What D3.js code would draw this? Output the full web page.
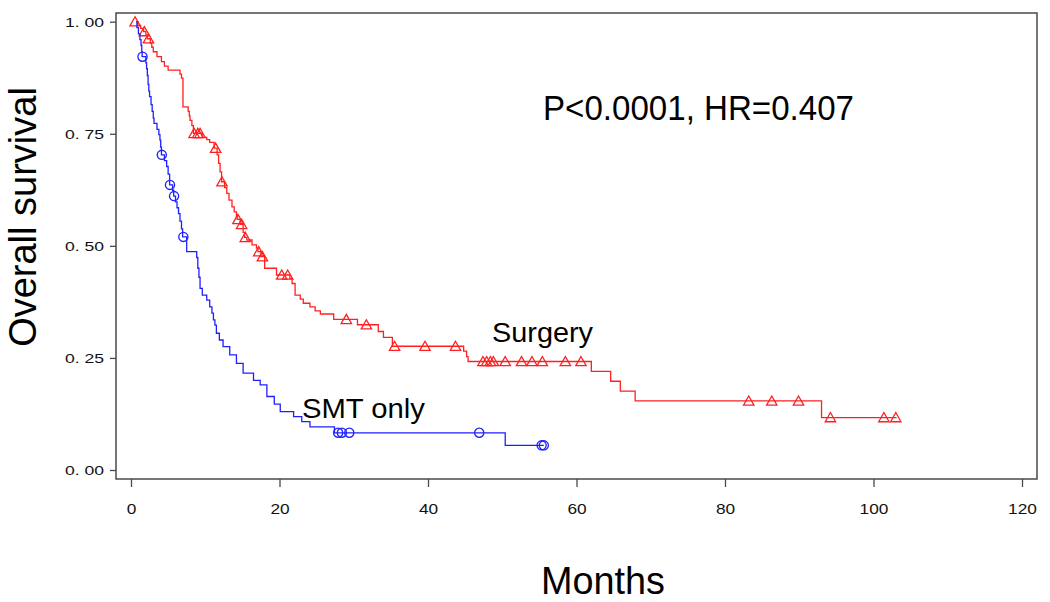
<!DOCTYPE html>
<html><head><meta charset="utf-8">
<script src="https://cdn.jsdelivr.net/npm/d3@7"></script>
<style>
body{margin:0;background:#fff}
text{font-family:"Liberation Sans",Arial,sans-serif}
</style>
</head><body>
<svg id="c" width="1050" height="602"></svg>
<script>
// ---- data ----
const xTicks = [0, 20, 40, 60, 80, 100, 120];
const yTicks = [0, 0.25, 0.5, 0.75, 1.0];
const yTickLabels = ["0. 00", "0. 25", "0. 50", "0. 75", "1. 00"];

const curveStart = 0.7;

const surgeryEventTimes = [0.9,1.3,1.7,2.0,2.2,2.6,2.8,3.0,3.5,4.1,4.5,5.0,6.6,6.8,7.0,7.7,7.85,7.95,8.2,8.4,9.6,10.2,10.6,11.2,11.6,11.8,12.0,12.2,12.6,12.9,13.2,13.6,13.9,14.2,14.3,14.7,15.1,15.3,15.6,16.3,16.9,17.1,17.5,18.0,19.6,21.4,21.7,22.1,22.8,23.2,24.1,24.8,25.5,27.3,30.5,33.3,34.0,35.2,44.8,45.2,45.4,62.0,64.6,65.9,67.9,93.0];
const surgerySurvival = [0.992,0.985,0.978,0.970,0.962,0.952,0.943,0.933,0.922,0.911,0.901,0.892,0.883,0.874,0.81,0.80,0.79,0.78,0.768,0.751,0.742,0.737,0.731,0.718,0.703,0.684,0.665,0.643,0.630,0.617,0.602,0.587,0.576,0.565,0.559,0.548,0.53,0.519,0.513,0.502,0.495,0.487,0.476,0.45,0.435,0.427,0.416,0.39,0.381,0.372,0.364,0.355,0.348,0.336,0.324,0.309,0.296,0.276,0.265,0.253,0.242,0.22,0.198,0.176,0.154,0.117];
const surgeryCensorTimes = [0.55,1.8,2.35,8.5,9.0,9.3,11.4,12.25,14.4,14.9,15.4,17.2,17.7,20.3,21.1,29.0,31.7,35.5,39.6,43.7,47.4,47.9,48.4,48.8,50.4,52.6,54.0,55.4,58.5,60.6,83.2,86.3,89.9,94.2,101.4,103.0];
const surgeryEnd = 103.1;

const smtEventTimes = [0.8,1.0,1.2,1.35,1.45,1.5,2.0,2.1,2.2,2.3,2.4,2.5,2.7,2.85,3.0,3.1,3.5,3.75,3.9,4.0,4.1,4.5,4.8,5.0,5.2,5.6,5.75,6.0,6.2,6.4,6.6,6.8,6.95,7.5,8.85,9.0,9.15,9.3,9.6,10.2,10.6,10.9,11.1,11.3,11.5,11.9,12.4,13.3,14.2,15.1,16.5,17.4,18.3,19.3,20.1,21.9,23.0,24.1,27.4,50.4];
const smtSurvival = [0.987,0.973,0.96,0.947,0.934,0.922,0.908,0.895,0.88,0.86,0.845,0.833,0.815,0.80,0.785,0.773,0.76,0.748,0.736,0.72,0.703,0.69,0.677,0.66,0.636,0.624,0.611,0.598,0.585,0.572,0.555,0.538,0.52,0.487,0.474,0.45,0.43,0.405,0.39,0.379,0.364,0.35,0.335,0.323,0.305,0.29,0.275,0.257,0.238,0.216,0.20,0.19,0.164,0.147,0.13,0.119,0.108,0.096,0.083,0.055];
const smtCensorTimes = [1.55,4.15,5.25,5.8,7.05,27.9,28.4,29.4,46.9,55.3,55.6];
const smtEnd = 55.6;

const groupLabels = ["Surgery", "SMT only"];
const annotation = "P<0.0001, HR=0.407";
const xTitle = "Months";
const yTitle = "Overall survival";

// ---- chart ----
const svg = d3.select("#c");
const x = d3.scaleLinear().domain([0, 120]).range([131, 1022]);
const y = d3.scaleLinear().domain([0, 1]).range([470, 21.7]);
const frame = {l: 116, t: 13, r: 1037, b: 479};
const axisColor = "#4a4a4a";

svg.append("rect").attr("x", frame.l).attr("y", frame.t)
  .attr("width", frame.r - frame.l).attr("height", frame.b - frame.t)
  .attr("fill", "none").attr("stroke", axisColor).attr("stroke-width", 1.5);

// x axis
const xAxis = d3.axisBottom(x).tickValues(xTicks).tickSize(8).tickPadding(16).tickFormat(d3.format("d"));
const gx = svg.append("g").attr("transform", `translate(0,${frame.b})`).call(xAxis);
gx.select(".domain").remove();
gx.selectAll("line").attr("stroke", axisColor).attr("stroke-width", 1.3);
gx.selectAll("text").attr("font-size", 15).attr("fill", "#111")
  .attr("textLength", d => String(d).length * 9.6).attr("lengthAdjust", "spacingAndGlyphs");

// y axis
const yAxis = d3.axisLeft(y).tickValues(yTicks).tickSize(6).tickPadding(6)
  .tickFormat((d, i) => yTickLabels[i]);
const gy = svg.append("g").attr("transform", `translate(${frame.l},0)`).call(yAxis);
gy.select(".domain").remove();
gy.selectAll("line").attr("stroke", axisColor).attr("stroke-width", 1.3);
gy.selectAll("text").attr("font-size", 13.5).attr("fill", "#111")
  .attr("textLength", 39).attr("lengthAdjust", "spacingAndGlyphs");

function stepPoints(times, surv, end) {
  const pts = [[curveStart, 1]];
  times.forEach((t, i) => pts.push([t, surv[i]]));
  pts.push([end, surv[surv.length - 1]]);
  return pts;
}
function survAt(times, surv, t) {
  let s = 1;
  for (let i = 0; i < times.length; i++) if (times[i] <= t) s = surv[i];
  return s;
}
const line = d3.line().x(d => x(d[0])).y(d => y(d[1])).curve(d3.curveStepAfter);

const groups = [
  {times: surgeryEventTimes, surv: surgerySurvival, cens: surgeryCensorTimes, end: surgeryEnd, color: "#ff2020", shape: "tri"},
  {times: smtEventTimes, surv: smtSurvival, cens: smtCensorTimes, end: smtEnd, color: "#2020ff", shape: "circ"}
];

groups.forEach(g => {
  svg.append("path").datum(stepPoints(g.times, g.surv, g.end))
    .attr("d", line).attr("fill", "none").attr("stroke", g.color).attr("stroke-width", 1.3);
  const m = svg.append("g").selectAll("path").data(g.cens).join("path")
    .attr("fill", "none").attr("stroke", g.color).attr("stroke-width", 1.3)
    .attr("transform", t => `translate(${x(t)},${y(survAt(g.times, g.surv, t))})`);
  if (g.shape === "tri") m.attr("d", "M0,-5L5.2,4.2L-5.2,4.2Z");
  else m.attr("d", d3.arc()({innerRadius: 0, outerRadius: 4.6, startAngle: 0, endAngle: 2 * Math.PI}));
});

// texts
function fitText(str, xPos, yPos, size, width) {
  return svg.append("text").attr("x", xPos).attr("y", yPos).attr("font-size", size)
    .attr("fill", "#000").attr("textLength", width).attr("lengthAdjust", "spacingAndGlyphs").text(str);
}
fitText(annotation, 543, 120, 35, 311);
fitText(groupLabels[0], 492, 342, 28, 101);
fitText(groupLabels[1], 302, 418, 28, 123);
fitText(xTitle, 541, 594, 38, 124);
svg.append("text").attr("transform", "translate(36,217) rotate(-90)")
  .attr("text-anchor", "middle").attr("font-size", 38).attr("fill", "#000").text(yTitle);
</script>
</body></html>
